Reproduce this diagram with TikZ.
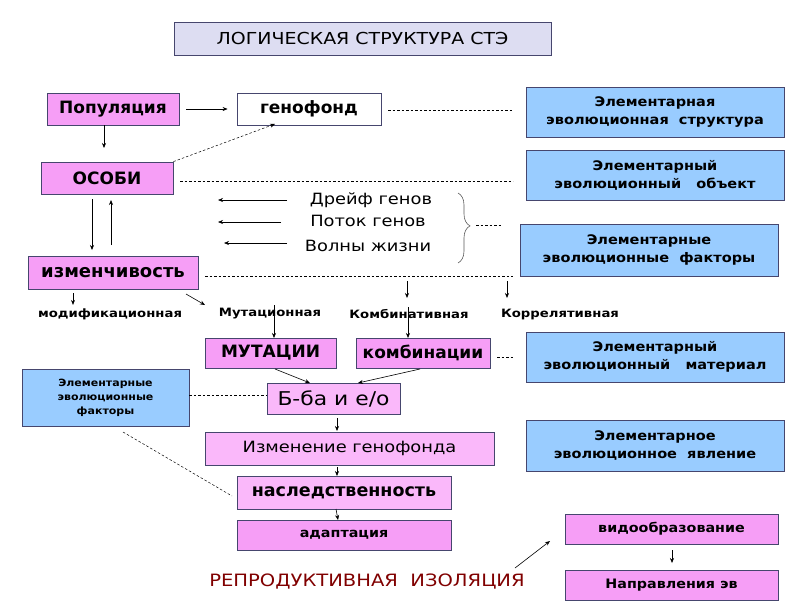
\documentclass[tikz,border=0pt]{standalone}
\usepackage{fontspec}
\setmainfont{DejaVu Sans}
\newfontfamily\comicfont[FakeStretch=1.15]{DejaVu Sans}
\newfontfamily\comicboldfont[FakeStretch=1.1]{DejaVu Sans}
\usetikzlibrary{arrows.meta,positioning,decorations.pathreplacing}

\definecolor{pinkbox}{RGB}{246,158,246}
\definecolor{pinklight}{RGB}{250,184,250}
\definecolor{bluebox}{RGB}{153,204,255}
\definecolor{titlefill}{RGB}{221,221,242}
\definecolor{framec}{RGB}{70,70,110}
\definecolor{isored}{RGB}{128,0,0}

\begin{document}
\begin{tikzpicture}[
    x=1pt, y=-1pt,
    box/.style={draw=framec, line width=0.8pt, inner sep=0pt, align=center},
    pink/.style={box, fill=pinkbox, font=\bfseries\fontsize{17}{19}\selectfont},
    light/.style={box, fill=pinklight},
    level/.style={box, fill=bluebox, font=\comicboldfont\bfseries\fontsize{13.2}{18}\selectfont},
    kind/.style={font=\comicfont\bfseries\fontsize{11.5}{13}\selectfont},
    factor/.style={font=\comicfont\fontsize{15.5}{17}\selectfont},
    link/.style={-{Stealth[length=5pt,width=4pt]}, line width=0.6pt},
    guide/.style={dashed, dash pattern=on 2.5pt off 2pt, line width=0.5pt}
]
\useasboundingbox (0,0) rectangle (800,600);

% ---- title ----
\node[box, fill=titlefill, minimum width=377, minimum height=33,
      font=\comicfont\fontsize{16.5}{18}\selectfont] (title) at (362.5,38.5) {ЛОГИЧЕСКАЯ СТРУКТУРА СТЭ};

% ---- left column ----
\node[pink, minimum width=132, minimum height=32] (pop) at (113,109) {Популяция};
\node[pink, fill=white, minimum width=144, minimum height=32] (pool) at (309,109) {генофонд};
\node[pink, minimum width=132, minimum height=32] (indiv) at (107,178) {ОСОБИ};
\node[pink, minimum width=170, minimum height=33, font=\bfseries\fontsize{18}{20}\selectfont] (var) at (113,272.5) {изменчивость};

% ---- factors in the middle ----
\node[factor] (drift) at (371,200) {Дрейф генов};
\node[factor] (flow) at (368,221) {Поток генов};
\node[factor] (waves) at (368,246) {Волны жизни};
\coordinate (driftend) at (218,200);
\coordinate (flowend) at (218,222);
\coordinate (wavesend) at (224,243);

% ---- right column: levels ----
\node[level, minimum width=258, minimum height=50] (struct) at (655,112)
  {Элементарная\\эволюционная\ \ структура};
\node[level, minimum width=258, minimum height=50] (object) at (655,175)
  {Элементарный\\эволюционный\ \ \ объект};
\node[level, minimum width=258, minimum height=52] (factors) at (649,250)
  {Элементарные\\эволюционные\ \ факторы};
\node[level, minimum width=258, minimum height=50] (material) at (655,357)
  {Элементарный\\эволюционный\ \ \ материал};
\node[level, minimum width=258, minimum height=51] (phenom) at (655,445.5)
  {Элементарное\\эволюционное\ \ явление};

% ---- kinds of variability ----
\node[kind] (modif) at (110,314) {модификационная};
\node[kind] (mutk) at (270,314) {Мутационная};
\node[kind] (combk) at (409,314) {Комбинативная};
\node[kind] (corrk) at (560,314) {Коррелятивная};
\coordinate (combtop) at (407,281);
\coordinate (corrtop) at (507,281);

% ---- material and below ----
\node[pink, minimum width=131, minimum height=30] (mut) at (270.5,353) {МУТАЦИИ};
\node[pink, minimum width=134, minimum height=30] (comb) at (423,353) {комбинации};
\node[light, minimum width=133, minimum height=31, font=\comicfont\fontsize{19}{21}\selectfont] (bba) at (333.5,398.5) {Б-ба и е/о};
\node[level, minimum width=167, minimum height=57, font=\comicboldfont\bfseries\fontsize{10}{14}\selectfont] (factors2) at (105.5,397.5)
  {Элементарные\\эволюционные\\факторы};
\node[light, minimum width=289, minimum height=33, font=\comicfont\fontsize{15.5}{18}\selectfont] (change) at (349.5,448.5) {Изменение генофонда};
\node[light, minimum width=214, minimum height=33, font=\bfseries\fontsize{17.5}{19}\selectfont] (hered) at (344,492.5) {наследственность};
\node[pink, minimum width=214, minimum height=30, font=\comicboldfont\bfseries\fontsize{13}{15}\selectfont] (adapt) at (344,535) {адаптация};

% ---- speciation ----
\node[pink, minimum width=213, minimum height=30, font=\comicboldfont\bfseries\fontsize{13}{15}\selectfont] (spec) at (671.5,529) {видообразование};
\node[pink, minimum width=213, minimum height=30, font=\comicboldfont\bfseries\fontsize{13}{15}\selectfont] (dirs) at (671.5,585) {Направления эв};
\node[text=isored, font=\comicfont\fontsize{17}{19}\selectfont] (iso) at (367,582) {РЕПРОДУКТИВНАЯ\ \ ИЗОЛЯЦИЯ};

% arrows
\draw[link] (pop.east) ++(7,0) -- ([xshift=-9]pool.west);
\draw[link] (pop.south -| 104,0) -- (104,148);
\draw[link, guide] (indiv.north east) -- (275,124);
\draw[link] (92,199) -- (92,250);
\draw[link] (111,245) -- (111,200);

\draw[link] (287,200) -- (driftend);
\draw[link] (281,222) -- (flowend);
\draw[link] (287,243) -- (wavesend);

\draw[link] (73,293) -- (modif.north -| 73,0);
\draw[link] (186,294) -- (205,305);
\draw[link] (combtop) -- (407,298);
\draw[link] (corrtop) -- (507,298);
\draw[link] (274,305) -- (274,338);
\draw[link] (408,307) -- (408,338);

\draw[link] (275,369) -- (310,383);
\draw[link] (420,369) -- (358,383);
\draw[link] (bba.south -| 337,0) ++(0,4) -- (337,431);
\draw[link] (change.south -| 337,0) ++(0,2) -- (337,476);
\draw[link] (336,509) -- (338,520);
\draw[link] (672,550) -- (672,563);
\draw[link] (515,568) -- (550,541);

% dashed guides to the levels
\draw[guide] (388,110) -- (513,110);
\draw[guide] (180,181) -- (513,181);
\draw[guide] (205,276) -- (513,276);
\draw[guide] (497,357) -- (513,357);
\draw[guide] (factors2.east |- 0,395) -- (bba.west |- 0,395);
\draw[guide] (123,432) -- (232,496);

% brace over the three factors
\draw[decorate, decoration={brace, amplitude=12pt, aspect=0.47}, line width=0.6pt, gray!70!black]
  (458,193) -- (458,263);
\draw[guide] (476,225) -- (502,225);

\end{tikzpicture}
\end{document}
